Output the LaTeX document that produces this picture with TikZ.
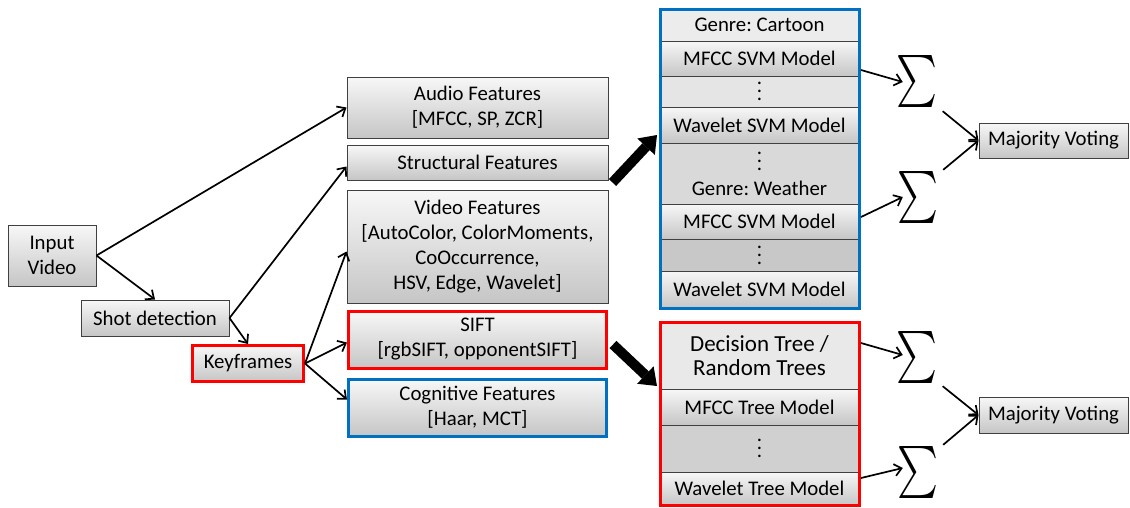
\documentclass[tikz,border=0pt]{standalone}
\usepackage{fontspec}
\setmainfont{Carlito}
\usepackage{graphicx}
\usetikzlibrary{arrows.meta,positioning,calc,fit}
\definecolor{framered}{RGB}{255,0,0}
\definecolor{frameblue}{RGB}{0,112,192}
\definecolor{edgegray}{RGB}{64,64,64}
\newcommand{\cdts}{\vbox{\baselineskip=8pt\lineskiplimit=-20pt\hbox{.}\hbox{.}\hbox{.}}}
\frenchspacing

\begin{document}
\begin{tikzpicture}[x=1pt, y=-1pt,
  cell/.style={draw=edgegray, line width=1pt, font=\fontsize{20.8}{25}\selectfont,
               align=center, inner sep=0pt},
  grad/.style={top color=gray!6, bottom color=gray!45},
  box/.style={cell, grad},
  redbox/.style={box, draw=framered, line width=3pt},
  bluebox/.style={box, draw=frameblue, line width=3pt},
  feat/.style={box, minimum width=261pt},
  model/.style={cell, minimum width=199pt, outer sep=0pt},
  sig/.style={inner sep=0pt},
  arr/.style={-{Straight Barb[length=7pt,width=12pt]}, line width=1.7pt},
  bigarr/.style={-{Triangle[length=16pt,width=24pt,line width=0pt]}, line width=10pt}
]
\useasboundingbox (0,0) rectangle (1130,507);

\node[box, minimum width=88pt, minimum height=61pt] (inp) at (52,255.5) {Input\\Video};
\node[box, minimum width=148pt, minimum height=36pt] (shot) at (155,318) {Shot detection};
\node[redbox, minimum width=111pt, minimum height=36pt] (key) at (248,363.5) {Keyframes};

\node[feat, minimum height=61pt] (audio) at (477.5,107.5) {Audio Features\\{}[MFCC, SP, ZCR]};
\node[feat, minimum height=35pt, below=6pt of audio] (struct) {Structural Features};
\node[feat, minimum height=113pt, below=9pt of struct] (video)
  {Video Features\\{}[AutoColor, ColorMoments,\\CoOccurrence,\\HSV, Edge, Wavelet]};
\node[redbox, minimum width=258pt, minimum height=57pt, below=6pt of video] (sift)
  {SIFT\\{}[rgbSIFT, opponentSIFT]};
\node[bluebox, minimum width=258pt, minimum height=57pt, below=8pt of sift] (cogn)
  {Cognitive Features\\{}[Haar, MCT]};

\node[model, fill=gray!15, minimum height=32pt] (gc) at (759.5,25) {Genre: Cartoon};
\node[model, grad, minimum height=35pt, below=0pt of gc] (m1) {MFCC SVM Model};
\node[model, fill=gray!20, minimum height=31pt, below=0pt of m1] (d1) {\cdts};
\node[model, grad, minimum height=36pt, below=0pt of d1] (w1) {Wavelet SVM Model};
\node[model, fill=gray!30, minimum height=61pt, below=0pt of w1] (gw) {\cdts\\Genre: Weather};
\node[model, grad, minimum height=35pt, below=0pt of gw] (m2) {MFCC SVM Model};
\node[model, fill=gray!43, minimum height=32pt, below=0pt of m2] (d2) {\cdts};
\node[model, grad, minimum height=37pt, below=0pt of d2] (w2) {Wavelet SVM Model};
\node[draw=frameblue, line width=3pt, inner sep=0pt, fit=(gc)(w2)] (svm) {};

\node[model, fill=gray!17, minimum height=67pt, font=\fontsize{23}{24}\selectfont] (dt) at (759.5,355.5)
  {Decision Tree /\\Random Trees};
\node[model, grad, minimum height=36pt, below=0pt of dt] (mt) {MFCC Tree Model};
\node[model, fill=gray!37, minimum height=47pt, below=0pt of mt] (dt2) {\cdts};
\node[model, grad, minimum height=33pt, below=0pt of dt2] (wt) {Wavelet Tree Model};
\node[draw=framered, line width=3pt, inner sep=0pt, fit=(dt)(wt)] (tree) {};

\node[sig] (s1) at (917,81) {\resizebox*{41pt}{52pt}{$\sum$}};
\node[sig] (s2) at (918,197) {\resizebox*{41pt}{52pt}{$\sum$}};
\node[sig] (s3) at (917,357) {\resizebox*{41pt}{52pt}{$\sum$}};
\node[sig] (s4) at (918,472) {\resizebox*{41pt}{52pt}{$\sum$}};

\node[box, minimum width=149pt, minimum height=35pt] (mv1) at (1053.5,140.5) {Majority Voting};
\node[box, minimum width=149pt, minimum height=36pt] (mv2) at (1053.5,415) {Majority Voting};

\draw[arr] (inp.east) -- (audio.west);
\draw[arr] (inp.east) -- (shot.north);
\draw[arr] (shot.east) -- ($(struct.west)+(0,4)$);
\draw[arr] (shot.east) -- (key.north);
\draw[arr] (key.east) -- ($(video.west)+(0,5)$);
\draw[arr] (key.east) -- ($(sift.west)+(0,3)$);
\draw[arr] (key.east) -- ($(cogn.west)+(0,-8)$);

\draw[bigarr] ($(struct.south east)+(4,2)$) -- ($(w1.south west)+(-3,-8)$);
\draw[bigarr] ($(sift.east)+(5,5)$) -- ($(mt.north west)+(-3,-3)$);

\draw[arr] ($(m1.south east)+(2,-6)$) -- ($(s1.west)+(6.5,1)$);
\draw[arr] ($(m2.east)+(2,-4.5)$) -- ($(s2.west)+(5.5,0)$);
\draw[arr] ($(dt.east)+(2,-12.5)$) -- ($(s3.west)+(6.5,-2)$);
\draw[arr] ($(wt.east)+(2,-10.5)$) -- ($(s4.west)+(5.5,-4)$);

\draw[arr] ($(s1.south east)+(5,4)$) -- (mv1.west);
\draw[arr] ($(s2.north east)+(4.5,-1)$) -- (mv1.west);
\draw[arr] ($(s3.south east)+(5,3)$) -- (mv2.west);
\draw[arr] ($(s4.north east)+(4.5,-1)$) -- (mv2.west);

\end{tikzpicture}
\end{document}
